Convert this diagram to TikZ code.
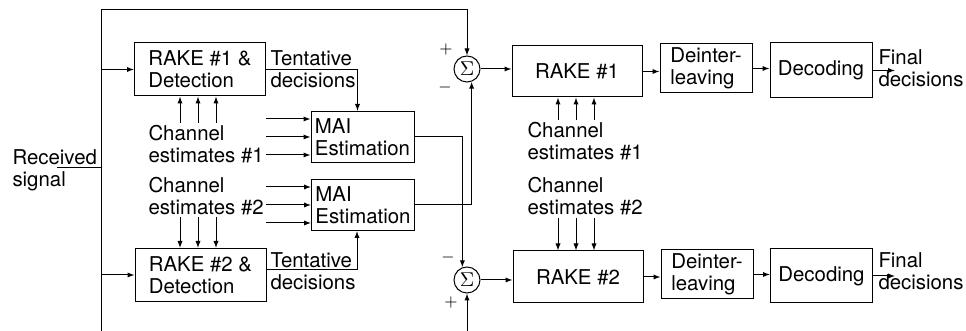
\documentclass[tikz,border=0pt]{standalone}
\usepackage{fontspec}
\setmainfont{TeX Gyre Heros}
\usetikzlibrary{arrows.meta, calc}

\begin{document}
\begin{tikzpicture}[
      x=0.5pt, y=-0.5pt, line width=0.5pt,
      every node/.style={font=\fontsize{10.2}{11}\selectfont},
      blk/.style 2 args={draw, inner sep=0pt, align=left,
                         minimum width=#1, minimum height=#2},
      lbl/.style={inner sep=1pt, align=left, anchor=west},
      sgn/.style={inner sep=0pt, font=\footnotesize},
      sum/.style={draw, circle, inner sep=0pt, minimum size=13pt},
      >={Latex[length=3.5pt, width=2.6pt]},
    ]
    \useasboundingbox (0,0) rectangle (966,331);

    \node[blk={65.5pt}{26.5pt}] (det1) at (200,69.5) {RAKE \#1 \&\\Detection};
    \node[blk={65.5pt}{26.5pt}] (det2) at (200.5,275) {RAKE \#2 \&\\Detection};
    \node[blk={51.5pt}{25.5pt}] (mai1) at (362.5,137) {MAI\\Estimation};
    \node[blk={51.5pt}{25.5pt}] (mai2) at (363,205) {MAI\\Estimation};
    \node[sum] (sum1) at (467,69) {$\Sigma$};
    \node[sum] (sum2) at (467,280) {$\Sigma$};
    \node[blk={65pt}{25.5pt}] (rake1) at (577,71.5) {RAKE \#1};
    \node[blk={65pt}{26pt}]   (rake2) at (578,277) {RAKE \#2};
    \node[blk={46pt}{24.5pt}] (dil1) at (706,68.5) {Deinter-\\leaving};
    \node[blk={46pt}{24.5pt}] (dil2) at (707,274.5) {Deinter-\\leaving};
    \node[blk={51pt}{27.5pt}] (dec1) at (821,70.5) {Decoding};
    \node[blk={51pt}{27pt}]   (dec2) at (821.5,276) {Decoding};

    \node[lbl] (rx)  at (10,170)    {Received\\signal};
    \node[lbl] (ch1) at (146,144)   {Channel\\estimates \#1};
    \node[lbl] (ch2) at (146,196)   {Channel\\estimates \#2};
    \node[lbl] (ch3) at (525,141.5) {Channel\\estimates \#1};
    \node[lbl] (ch4) at (525,196.5) {Channel\\estimates \#2};
    \node[lbl] (td1) at (268,69)    {Tentative\\decisions};
    \node[lbl] (td2) at (268,271.5) {Tentative\\decisions};
    \node[lbl] (fd1) at (876,68.5)  {Final\\decisions};
    \node[lbl] (fd2) at (876,271.5) {Final\\decisions};

    \node[sgn] (p1) at (446,50)  {$+$};
    \node[sgn] (m1) at (445,88)  {$-$};
    \node[sgn] (m2) at (448,258) {$-$};
    \node[sgn] (p2) at (451,303) {$+$};

    \coordinate (rxin) at (57,168);
    \coordinate (tap)  at (101,168);
    \coordinate (tl)   at (101,10);
    \coordinate (bl)   at (101,334);
    \coordinate (out1) at (895,69);
    \coordinate (out2) at (895,277);

    \draw (rxin) -- (tap);
    \draw (tl) -- (bl);
    \draw[->] (tl) -| (sum1.north);
    \draw[->] (bl) -| (sum2.south);
    \draw[->] (det1.west -| tl) -- (det1.west);
    \draw[->] (det2.west -| tl) -- (det2.west);

    \foreach \x in {180,198,216} {
      \draw[->] (\x,0 |- ch1.north) -- (\x,0 |- det1.south);
      \draw[->] (\x,0 |- ch2.south) -- (\x,0 |- det2.north);
    }
    \foreach \x in {558,576,594} {
      \draw[->] (\x,0 |- ch3.north) -- (\x,0 |- rake1.south);
      \draw[->] (\x,0 |- ch4.south) -- (\x,0 |- rake2.north);
    }
    \foreach \dy in {-18,0,18} {
      \path ($(mai1.west)+(0,\dy)$) coordinate (in1);
      \path ($(mai2.west)+(0,\dy)$) coordinate (in2);
      \draw[->] (ch1.east |- in1) -- (in1);
      \draw[->] (ch2.east |- in2) -- (in2);
    }

    \draw[->] (det1.east) -| ([xshift=-2.5pt]mai1.north);
    \draw[->] ([yshift=2.5pt]det2.east) -| ([xshift=-3pt]mai2.south);
    \draw[->] (mai1.east) -| (sum2.110);
    \draw[->] (mai2.east) -| (sum1.-70);

    \draw[->] (sum1.east) -- (sum1.east -| rake1.west);
    \draw[->] (sum2.east) -- (sum2.east -| rake2.west);
    \draw[->] (rake1.east) -- (rake1.east -| dil1.west);
    \draw[->] (rake2.east) -- (rake2.east -| dil2.west);
    \draw[->] (dil1.east) -- (dil1.east -| dec1.west);
    \draw[->] (dil2.east) -- (dil2.east -| dec2.west);
    \draw[->] (dec1.east) -- (dec1.east -| out1);
    \draw[->] (dec2.east) -- (dec2.east -| out2);
  \end{tikzpicture}
\end{document}
